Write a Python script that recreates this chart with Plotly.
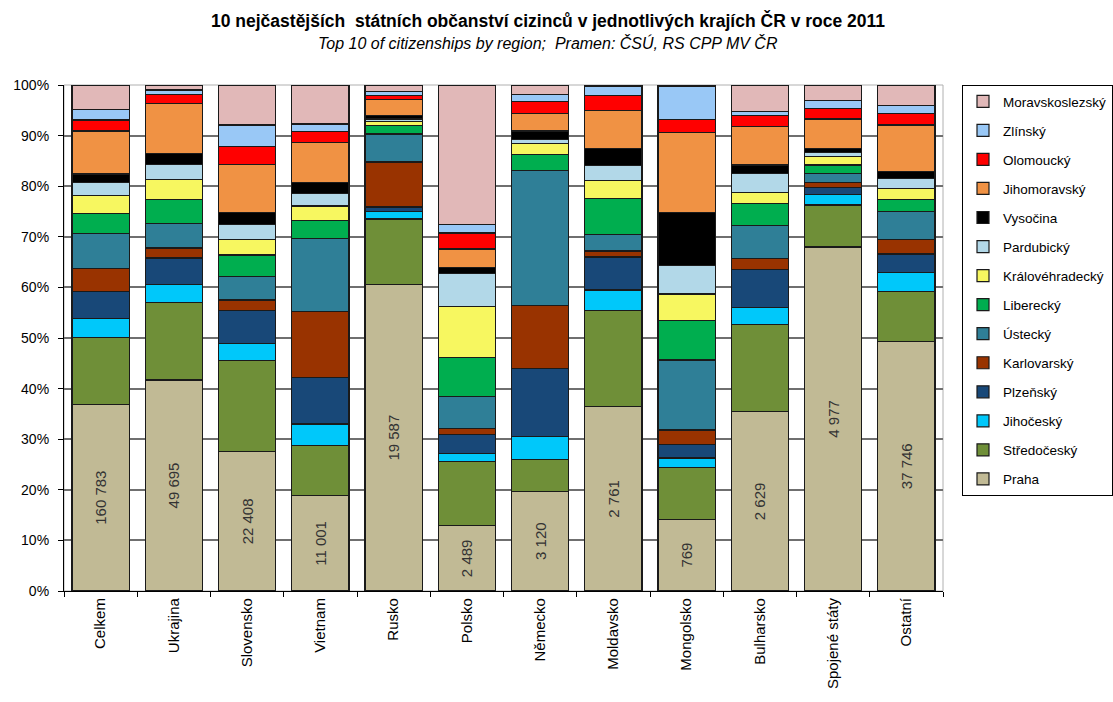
import plotly.graph_objects as go

# Citizenship groups (x-axis)
categories = ["Celkem", "Ukrajina", "Slovensko", "Vietnam", "Rusko", "Polsko",
              "Německo", "Moldavsko", "Mongolsko", "Bulharsko", "Spojené státy", "Ostatní"]

# Region shares in % for each citizenship group (stacked bottom to top)
praha           = [36.9, 41.7, 27.5, 18.8, 60.6, 12.9, 19.7, 36.4, 14.2, 35.4, 68.0, 49.3]
stredocesky     = [13.2, 15.3, 18.0,  9.9, 12.9, 12.7,  6.3, 19.1, 10.2, 17.3,  8.3,  9.85]
jihocesky       = [ 3.8,  3.6,  3.45, 4.3,  1.5,  1.6,  4.6,  4.0,  1.9,  3.4,  2.0,  3.85]
plzensky        = [ 5.25, 5.2,  6.55, 9.2,  0.9,  3.7, 13.3,  6.5,  2.7,  7.4,  1.4,  3.6]
karlovarsky     = [ 4.65, 2.0,  2.0, 13.1,  8.9,  1.2, 12.6,  1.2,  2.8,  2.25, 1.0,  2.8]
ustecky         = [ 6.9,  4.9,  4.6, 14.3,  5.5,  6.3, 26.6,  3.2, 13.85, 6.45, 1.8,  5.6]
liberecky       = [ 3.9,  4.6,  4.3,  3.6,  1.7,  7.7,  3.2,  7.2,  7.75, 4.4,  1.7,  2.3]
kralovehradecky = [ 3.5,  4.1,  3.0,  2.9,  0.8, 10.2,  2.2,  3.6,  5.3,  2.2,  1.6,  2.3]
pardubicky      = [ 2.6,  2.9,  3.1,  2.4,  0.5,  6.5,  0.8,  2.9,  5.7,  3.75, 0.9,  2.0]
vysocina        = [ 1.7,  2.2,  2.3,  2.2,  0.6,  1.1,  1.6,  3.3, 10.4,  1.65, 0.8,  1.3]
jihomoravsky    = [ 8.5,  9.9,  9.5,  8.0,  3.3,  3.7,  3.4,  7.5, 15.85, 7.6,  5.8,  9.2]
olomoucky       = [ 2.2,  1.8,  3.6,  2.1,  0.8,  3.15, 2.4,  3.0,  2.55, 2.1,  2.1,  2.2]
zlinsky         = [ 2.0,  0.8,  4.2,  1.5,  0.7,  1.75, 1.5,  1.9,  6.6,  0.8,  1.5,  1.6]
moravskoslezsky = [ 4.9,  1.0,  7.9,  7.7,  1.3, 27.5,  1.8,  0.2,  0.2,  5.3,  3.1,  4.1]

# Number of foreigners living in Praha for each group
praha_counts = ["160 783", "49 695", "22 408", "11 001", "19 587", "2 489",
                "3 120", "2 761", "769", "2 629", "4 977", "37 746"]

regions = [
    ("Praha", praha, "#C1BA95"),
    ("Středočeský", stredocesky, "#6F8F38"),
    ("Jihočeský", jihocesky, "#00C8FA"),
    ("Plzeňský", plzensky, "#184878"),
    ("Karlovarský", karlovarsky, "#993300"),
    ("Ústecký", ustecky, "#2F7F97"),
    ("Liberecký", liberecky, "#00AE4F"),
    ("Královéhradecký", kralovehradecky, "#F7F760"),
    ("Pardubický", pardubicky, "#B2D8E8"),
    ("Vysočina", vysocina, "#000000"),
    ("Jihomoravský", jihomoravsky, "#F09244"),
    ("Olomoucký", olomoucky, "#FF0000"),
    ("Zlínský", zlinsky, "#99C8F6"),
    ("Moravskoslezský", moravskoslezsky, "#E1B8B8"),
]

FONT = "Liberation Sans, Arial, sans-serif"

fig = go.Figure()
for i, (name, vals, color) in enumerate(regions):
    kw = {}
    if name == "Praha":
        kw = dict(text=praha_counts, textposition="inside", textangle=-90,
                  insidetextanchor="middle", constraintext="none",
                  textfont=dict(size=15, color="#333333", family=FONT))
    fig.add_trace(go.Bar(
        x=categories, y=vals, name=name, legendgroup=name,
        legendrank=1000 - i,
        marker=dict(color=color, line=dict(color="#1a1a1a", width=1.2)),
        hoverinfo="x+y+name", **kw))

fig.update_layout(
    barmode="stack",
    bargap=0.22,
    width=1113, height=702,
    margin=dict(l=64, r=170, t=85, b=111),
    paper_bgcolor="white", plot_bgcolor="white",
    font=dict(family=FONT, size=14, color="#000000"),
    showlegend=True,
    legend=dict(
        xref="container", yref="container",
        x=962 / 1113, y=1 - 85 / 702, xanchor="left", yanchor="top",
        traceorder="grouped", tracegroupgap=8.5, maxheight=500,
        bordercolor="#000000", borderwidth=1,
        font=dict(size=13.5, family=FONT, color="#000000"),
        itemwidth=30,
    ),
    annotations=[
        dict(text="<b>10 nejčastějších  státních občanství cizinců v jednotlivých krajích ČR v roce 2011</b>",
             xref="paper", yref="paper", x=0.5506, y=1.1265, showarrow=False,
             font=dict(size=17.5, family=FONT), xanchor="center", yanchor="middle"),
        dict(text="<i>Top 10 of citizenships by region;  Pramen: ČSÚ, RS CPP MV ČR</i>",
             xref="paper", yref="paper", x=0.5506, y=1.083, showarrow=False,
             font=dict(size=16, family=FONT), xanchor="center", yanchor="middle"),
    ],
    shapes=[
        dict(type="rect", xref="x domain", yref="y domain", x0=0, x1=1, y0=0, y1=1,
             line=dict(color="#b0b0b0", width=1), layer="below"),
    ],
)

fig.update_xaxes(
    tickangle=-90, showline=True, linecolor="#000000", linewidth=1.2,
    ticks="outside", tickson="boundaries", ticklen=5, tickcolor="#000000",
    showgrid=False, automargin=False, tickfont=dict(size=15, family=FONT),
)
fig.update_yaxes(
    range=[0, 100], dtick=10, ticksuffix="%",
    showline=True, linecolor="#000000", linewidth=1.2,
    ticks="outside", ticklen=5, tickcolor="#000000", ticklabelstandoff=6,
    showgrid=True, gridcolor="#6f6f6f", gridwidth=1.5,
    zeroline=False, automargin=False, tickfont=dict(size=14, family=FONT),
)

fig.write_html("out.html")
